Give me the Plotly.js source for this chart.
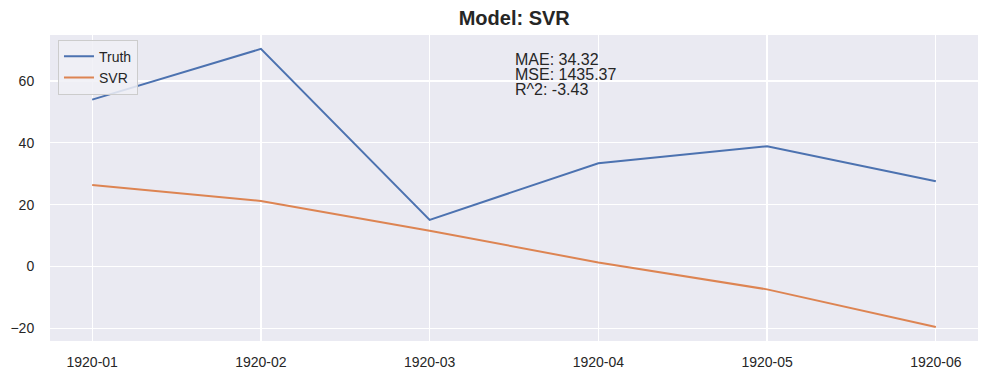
<!DOCTYPE html>
<html>
<head>
<meta charset="utf-8">
<script src="https://cdn.plot.ly/plotly-3.0.1.min.js"></script>
<style>html,body{margin:0;padding:0;background:#fff;}#chart{width:989px;height:379px;}</style>
</head>
<body>
<div id="chart"></div>
<script>
const months = ["1920-01", "1920-02", "1920-03", "1920-04", "1920-05", "1920-06"];
const truth = [54.0, 70.4, 15.1, 33.4, 38.9, 27.6];
const svr = [26.4, 21.2, 11.6, 1.3, -7.4, -19.6];
const metricLines = ["MAE: 34.32", "MSE: 1435.37", "R^2: -3.43"];
const yTicks = [-20, 0, 20, 40, 60];

const FONT = "Liberation Sans, Arial, Helvetica, sans-serif";

const traces = [
  {x: months, y: truth, name: "Truth", type: "scatter", mode: "lines",
   line: {color: "#4C72B0", width: 2}},
  {x: months, y: svr, name: "SVR", type: "scatter", mode: "lines",
   line: {color: "#DD8452", width: 2}}
];

const metricY = [0.920, 0.871, 0.822];
const annotations = metricLines.map((t, i) => ({
  text: t, xref: "x", yref: "paper", x: 2.5, y: metricY[i],
  xanchor: "left", yanchor: "middle", showarrow: false,
  font: {family: FONT, size: 16, color: "#262626"}, borderpad: 0
}));

const layout = {
  width: 989, height: 379,
  margin: {l: 50, r: 11, t: 35, b: 38},
  paper_bgcolor: "#ffffff",
  plot_bgcolor: "#EAEAF2",
  font: {family: FONT, size: 14, color: "#262626"},
  title: {text: "<b>Model: SVR</b>", font: {family: FONT, size: 20, color: "#262626"},
          x: 0.52, xanchor: "center", y: 0.952, yanchor: "middle"},
  xaxis: {type: "category", range: [-0.25, 5.25], showgrid: true, gridcolor: "#ffffff", gridwidth: 1.2,
          zeroline: false, showline: false, ticks: "outside", ticklen: 8, tickcolor: "rgba(0,0,0,0)",
          tickfont: {family: FONT, size: 14, color: "#262626"}},
  yaxis: {range: [-24.1, 74.9], tickvals: yTicks, ticktext: yTicks.map(v => v < 0 ? "\u2212" + Math.abs(v) : String(v)),
          showgrid: true, gridcolor: "#ffffff", gridwidth: 1.2,
          zeroline: false, showline: false, ticks: "outside", ticklen: 12, tickcolor: "rgba(0,0,0,0)",
          tickfont: {family: FONT, size: 14, color: "#262626"}},
  showlegend: true,
  legend: {x: 0.0086, y: 0.985, xanchor: "left", yanchor: "top",
           bgcolor: "rgba(240,240,246,0.85)", bordercolor: "#CCCCCC", borderwidth: 1,
           font: {family: FONT, size: 14, color: "#262626"}},
  annotations: annotations
};

Plotly.newPlot("chart", traces, layout, {displayModeBar: false, staticPlot: true});
</script>
</body>
</html>
